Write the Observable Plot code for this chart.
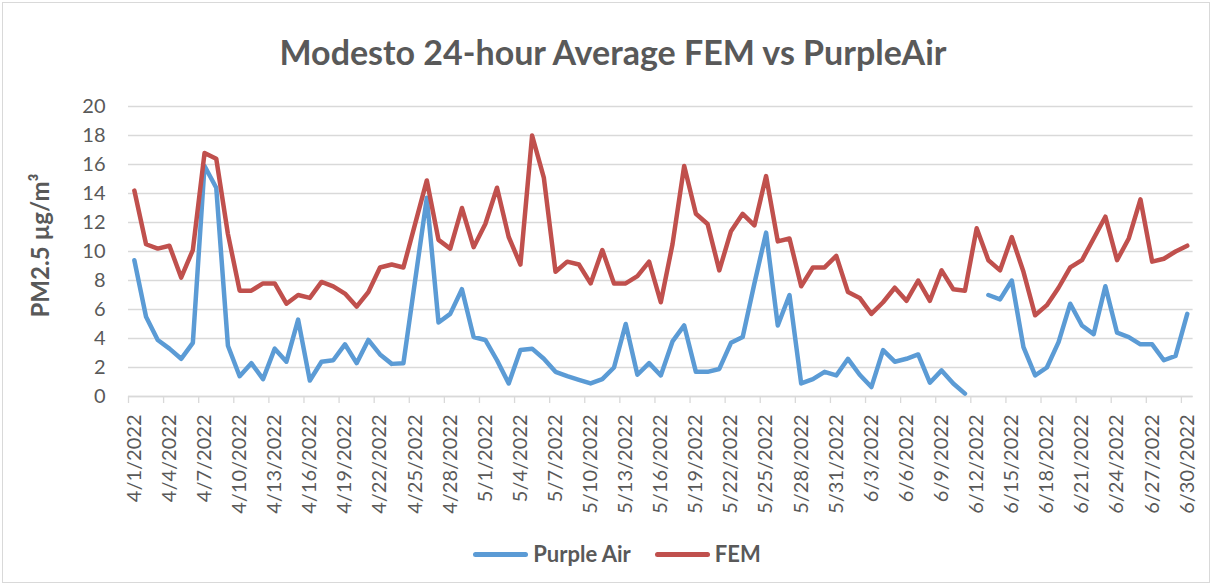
<!DOCTYPE html>
<html><head><meta charset="utf-8">
<script src="https://cdn.jsdelivr.net/npm/d3@7"></script>
<script src="https://cdn.jsdelivr.net/npm/@observablehq/plot@0.6"></script>
<style>
body{margin:0;background:#fff;}
#chart{position:relative;width:1212px;height:585px;overflow:hidden;font-family:Lato,"Open Sans",sans-serif;background:#fff;}
#border{position:absolute;left:2px;top:2px;width:1206px;height:579px;border:1px solid #d9d9d9;}
#title{position:absolute;left:0;width:1226px;top:31px;text-align:center;font-weight:bold;font-size:34px;color:#595959;line-height:42px;}
#plot{position:absolute;left:0;top:80px;}
#legend{position:absolute;left:0;width:1234px;top:540px;display:flex;justify-content:center;align-items:center;font-weight:bold;font-size:22px;color:#595959;line-height:28px;}
.item{display:flex;align-items:center;margin:0 12px;}
.sw{width:55px;height:5px;border-radius:3px;margin-right:5px;}
</style></head>
<body>
<div id="chart">
<div id="border"></div>
<div id="title">Modesto 24-hour Average FEM vs PurpleAir</div>
<div id="plot"></div>
<div id="legend"></div>
</div>
<script>
const dates = d3.utcDay.range(new Date(Date.UTC(2022,3,1)), new Date(Date.UTC(2022,6,1))).map(d3.utcFormat("%-m/%-d/%Y"));
const fem = [14.2,10.5,10.2,10.4,8.2,10.1,16.8,16.4,11.2,7.3,7.3,7.8,7.8,6.4,7.0,6.8,7.9,7.6,7.1,6.2,
  7.2,8.9,9.1,8.9,11.9,14.9,10.8,10.2,13.0,10.3,11.9,14.4,11.0,9.1,18.0,15.1,8.6,9.3,9.1,7.8,
  10.1,7.8,7.8,8.3,9.3,6.5,10.5,15.9,12.6,11.9,8.7,11.4,12.6,11.8,15.2,10.7,10.9,7.6,8.9,8.9,
  9.7,7.2,6.8,5.7,6.5,7.5,6.6,8.0,6.6,8.7,7.4,7.3,11.6,9.4,8.7,11.0,8.6,5.6,6.3,7.5,
  8.9,9.4,10.9,12.4,9.4,10.9,13.6,9.3,9.5,10.0,10.4];
const purpleAir = [9.4,5.5,3.9,3.3,2.6,3.7,15.9,14.4,3.5,1.4,2.3,1.2,3.3,2.4,5.3,1.1,2.4,2.5,3.6,2.3,
  3.9,2.9,2.25,2.3,8.0,13.7,5.1,5.7,7.4,4.1,3.9,2.5,0.9,3.2,3.3,2.6,1.7,1.4,1.15,0.9,
  1.2,2.0,5.0,1.5,2.3,1.45,3.8,4.9,1.7,1.7,1.9,3.7,4.1,7.8,11.3,4.9,7.0,0.9,1.2,1.7,
  1.45,2.6,1.5,0.65,3.2,2.4,2.6,2.9,0.95,1.8,0.9,0.2,null,7.0,6.7,8.0,3.4,1.45,2.0,3.75,
  6.4,4.9,4.3,7.6,4.4,4.1,3.6,3.6,2.5,2.8,5.7];
const yTicks = [0,2,4,6,8,10,12,14,16,18,20];
const labelDates = dates.filter((d,i)=>i%3===0);
const seriesNames = ["Purple Air","FEM"];
const seriesColors = ["#5b9bd5","#c0504d"];
const yLabel = "PM2.5 µg/m³";

const rows = dates.map((date,i)=>({date, fem: fem[i], pa: purpleAir[i]}));

const plot = Plot.plot({
  width: 1212, height: 450,
  marginTop: 26, marginBottom: 134, marginLeft: 128, marginRight: 19.4,
  style: {fontFamily: "Lato, 'Open Sans', sans-serif", fontSize: "20px", color: "#595959", background: "transparent", overflow: "visible"},
  x: {type: "point", domain: dates, padding: 0.5, label: null},
  y: {domain: [0,20], label: null},
  marks: [
    Plot.gridY(yTicks, {stroke: "#d9d9d9", strokeOpacity: 1, strokeWidth: 1.3}),
    Plot.ruleY([0], {stroke: "#d9d9d9", strokeWidth: 1.6}),
    Plot.axisY(yTicks, {tickSize: 0, tickPadding: 23, color: "#595959", fontSize: 20, label: null}),
    Plot.axisX(labelDates, {tickSize: 7, tickFormat: () => "", dx: -5.85, color: "#d9d9d9", strokeWidth: 1.3, label: null}),
    Plot.axisX(labelDates, {tickSize: 0, tickPadding: 18, tickRotate: -90, color: "#595959", fontSize: 20, label: null}),
    Plot.line(rows, {x: "date", y: "pa", stroke: seriesColors[0], strokeWidth: 4.5, strokeLinejoin: "round", strokeLinecap: "round"}),
    Plot.line(rows, {x: "date", y: "fem", stroke: seriesColors[1], strokeWidth: 4.5, strokeLinejoin: "round", strokeLinecap: "round"}),
    Plot.text([yLabel], {frameAnchor: "left", textAnchor: "middle", rotate: -90, dx: -87, dy: -6, fontWeight: "bold", fontSize: 24, fill: "#595959"})
  ]
});
document.getElementById("plot").appendChild(plot);

const legend = document.getElementById("legend");
seriesNames.forEach((n,k)=>{
  const it = document.createElement("div"); it.className = "item";
  const sw = document.createElement("div"); sw.className = "sw"; sw.style.background = seriesColors[k];
  const tx = document.createElement("span"); tx.textContent = n;
  it.appendChild(sw); it.appendChild(tx); legend.appendChild(it);
});
</script>
</body></html>
